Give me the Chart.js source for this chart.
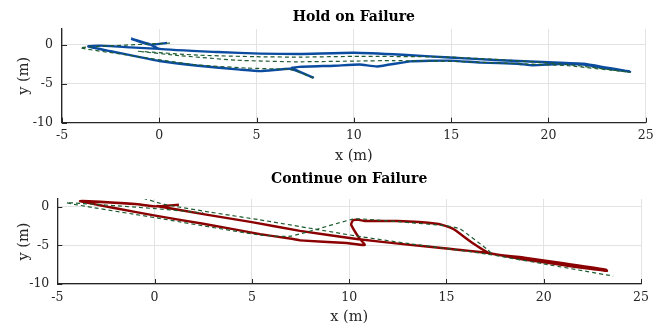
<!DOCTYPE html>
<html>
<head>
<meta charset="utf-8">
<script src="https://cdn.jsdelivr.net/npm/chart.js@4"></script>
<style>
html, body { margin: 0; padding: 0; background: #fff; }
#wrap { position: relative; width: 661px; height: 328px; }
canvas { position: absolute; left: 0; }
</style>
</head>
<body>
<div id="wrap">
  <canvas id="holdChart" width="661" height="165" style="top:0"></canvas>
  <canvas id="contChart" width="661" height="163" style="top:165px"></canvas>
</div>
<script>
// axis ticks
const xTicks = [-5, 0, 5, 10, 15, 20, 25];
const yTicks = [-10, -5, 0];

// Hold on Failure - actual path (blue)
const holdActualX = [0.4, -0.45, -1.45, -0.45, 0.0, 3.0, 5.2, 7.2, 10.0, 12.5, 14.9, 17.5, 20.0, 21.8, 23.0, 24.2,
  23.0, 21.8, 20.5, 19.2, 18.4, 16.5, 14.9, 12.9, 11.2, 10.3, 9.0, 7.2, 6.8, 7.9, 7.1, 6.7, 5.2, 4.15, 2.0, 0.0,
  -1.0, -2.5, -3.65, -3.05, -1.5, 0.0];
const holdActualY = [0.22, 0.0, 0.75, 0.0, -0.55, -0.95, -1.15, -1.2, -1.05, -1.3, -1.65, -2.0, -2.25, -2.45, -2.95, -3.45,
  -3.05, -2.55, -2.5, -2.65, -2.45, -2.3, -2.05, -2.15, -2.8, -2.55, -2.7, -2.85, -3.0, -4.2, -3.4, -3.1, -3.4, -3.2, -2.7, -2.1,
  -1.6, -0.85, -0.22, -0.13, -0.35, -0.55];

// Hold on Failure - reference path (green dashed)
const holdRefX = [0.55, -4.05, -2.0, 1.75, 4.5, 6.9, 7.9, null,
  -1.1, 2.0, 5.0, 7.2, 10.3, 14.9, 18.0, 21.0, 24.2, 21.0, 18.0, 15.0, 12.0, 10.3, 7.0, 4.0, 1.0, -1.1];
const holdRefY = [0.2, -0.4, -1.2, -2.55, -3.0, -3.25, -4.3, null,
  -0.85, -1.35, -1.55, -1.6, -1.5, -1.6, -2.0, -2.55, -3.55, -2.7, -2.4, -2.15, -2.05, -2.1, -2.2, -2.0, -1.4, -0.85];

// Continue on Failure - actual path (red)
const contActualX = [1.25, 0.0, -1.0, -3.83, -2.0, 0.11, 2.5, 5.42, 7.13, 7.47, 9.87, 10.8, 10.5, 10.1, 10.2, 10.5, 10.8,
  12.5, 14.5, 15.1, 15.4, 16.4, 17.2, 19.0, 21.0, 23.2, 23.25, 21.0, 19.0, 17.15, 15.0, 13.0, 10.39, 7.47, 5.0, 2.5, 0.1];
const contActualY = [0.25, 0.05, 0.35, 0.73, -0.2, -1.19, -2.2, -3.54, -4.18, -4.35, -4.7, -4.95, -4.0, -2.3, -1.75, -1.7, -1.85,
  -1.85, -2.2, -2.6, -2.95, -4.8, -6.0, -6.6, -7.3, -8.15, -8.3, -7.55, -6.85, -6.0, -5.4, -4.9, -4.18, -3.12, -2.0, -0.95, 0.1];

// Continue on Failure - reference path (green dashed)
const contRefX = [-0.92, 0.5, 2.85, 5.42, 8.14, 10.39, 13.0, 17.0, 20.0, 23.57, null,
  17.3, 17.07, 15.7, 15.0, 10.9, 10.2, 7.0, 5.42, 0.11, -4.52, 0.11, 2.5];
const contRefY = [1.37, 0.3, -0.7, -1.7, -2.85, -3.8, -4.75, -6.1, -7.4, -8.97, null,
  -6.0, -5.46, -2.87, -2.47, -1.62, -1.6, -3.8, -3.67, -1.45, 0.51, -0.26, -0.8];

const FONT = "'DejaVu Serif', serif";
const AXIS = '#262626';
const GRID = '#e3e3e3';

function toPoints(xs, ys) {
  return xs.map((x, i) => ({ x: x, y: ys[i] }));
}

// small inward tick marks like the original figure
const innerTicks = {
  id: 'innerTicks',
  afterDatasetsDraw(chart) {
    const { ctx, chartArea: a, scales } = chart;
    ctx.save();
    ctx.strokeStyle = AXIS;
    ctx.lineWidth = 1;
    ctx.beginPath();
    xTicks.forEach(v => {
      const p = Math.round(scales.x.getPixelForValue(v)) + 0.5;
      ctx.moveTo(p, a.bottom); ctx.lineTo(p, a.bottom - 5);
    });
    yTicks.forEach(v => {
      const p = Math.round(scales.y.getPixelForValue(v)) + 0.5;
      ctx.moveTo(a.left, p); ctx.lineTo(a.left + 5, p);
    });
    ctx.stroke();
    ctx.restore();
  }
};

function makeChart(id, o) {
  return new Chart(document.getElementById(id), {
    type: 'scatter',
    data: {
      datasets: [{
        data: toPoints(o.refX, o.refY), // reference on top
        showLine: true, spanGaps: false, tension: 0.15,
        borderColor: '#1e5b30', borderWidth: 1.2, borderDash: [4, 3],
        pointRadius: 0, fill: false
      }, {
        data: toPoints(o.actX, o.actY),
        showLine: true, spanGaps: false, tension: 0.15,
        borderColor: o.color, borderWidth: 2.4,
        pointRadius: 0, fill: false
      }]
    },
    options: {
      responsive: false,
      animation: false,
      layout: { padding: { left: 0, right: o.padRight, top: 0, bottom: 0 } },
      plugins: {
        legend: { display: false },
        tooltip: { enabled: false },
        title: {
          display: true, text: o.title, fullSize: false, color: '#000',
          font: { family: FONT, size: 14, weight: 'bold' },
          padding: { top: o.titleTop, bottom: o.titleBottom }
        }
      },
      scales: {
        x: {
          type: 'linear', min: -5, max: 25,
          afterBuildTicks: s => { s.ticks = xTicks.map(v => ({ value: v })); },
          afterFit: s => { s.height = o.xHeight; },
          grid: { color: GRID, drawTicks: false },
          border: { color: AXIS, width: 1.3 },
          ticks: { padding: 6, color: AXIS, maxRotation: 0, autoSkip: false, font: { family: FONT, size: 12.5 } },
          title: { display: true, text: 'x (m)', color: AXIS, font: { family: FONT, size: 14.5 }, padding: { top: 0, bottom: o.xTitlePad } }
        },
        y: {
          type: 'linear', min: -10, max: o.yMax,
          afterBuildTicks: s => { s.ticks = yTicks.map(v => ({ value: v })); },
          afterFit: s => { s.width = o.yWidth; },
          grid: { color: GRID, drawTicks: false },
          border: { color: AXIS, width: 1.3 },
          ticks: { padding: o.yTickPad, color: AXIS, font: { family: FONT, size: 12.5 } },
          title: { display: true, text: 'y (m)', color: AXIS, font: { family: FONT, size: 14.5 }, padding: { top: 16, bottom: 0 } }
        }
      }
    },
    plugins: [innerTicks]
  });
}

makeChart('holdChart', {
  title: 'Hold on Failure', color: '#0b4ca0',
  actX: holdActualX, actY: holdActualY, refX: holdRefX, refY: holdRefY,
  yMax: 2, yWidth: 62, padRight: 15.3, xHeight: 42.3, xTitlePad: 0.5,
  titleTop: 9, titleBottom: 3.2, yTickPad: 9
});

makeChart('contChart', {
  title: 'Continue on Failure', color: '#8b0000',
  actX: contActualX, actY: contActualY, refX: contRefX, refY: contRefY,
  yMax: 1, yWidth: 57.3, padRight: 20, xHeight: 44, xTitlePad: 2.3,
  titleTop: 5.6, titleBottom: 11.6, yTickPad: 8
});
</script>
</body>
</html>
